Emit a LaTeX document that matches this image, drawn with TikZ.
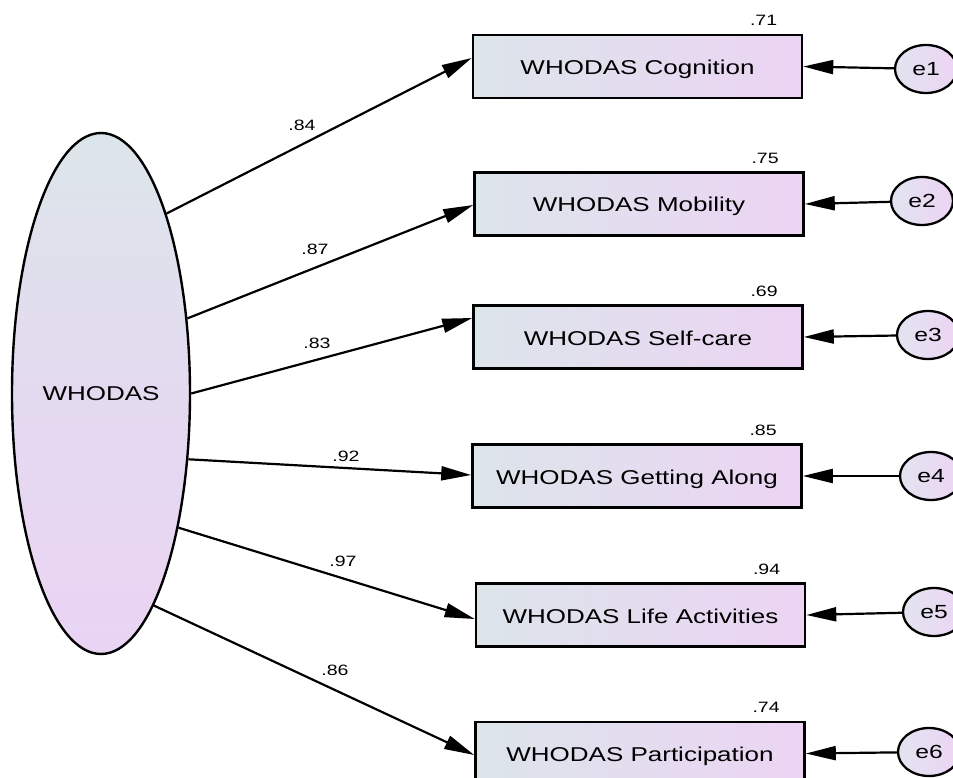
\documentclass[tikz,border=0pt]{standalone}
\usepackage{fontspec}
\setmainfont{Liberation Sans}[FakeStretch=1.3]
\usetikzlibrary{arrows.meta,shapes.geometric}

\definecolor{boxL}{HTML}{DCE5EA}
\definecolor{boxR}{HTML}{ECD4F4}
\definecolor{latT}{HTML}{DCE6EA}
\definecolor{latM}{HTML}{E4DAF0}
\definecolor{latB}{HTML}{EAD4F4}
\definecolor{errL}{HTML}{E2E4F0}
\definecolor{errR}{HTML}{EDD4F4}

\begin{document}
\begin{tikzpicture}[x=1pt,y=-1pt,
  obs/.style={draw, line width=2.6pt, minimum width=329pt, minimum height=63pt,
    inner sep=0pt, left color=boxL, right color=boxR,
    text height=20pt, text depth=4pt,
    font=\fontsize{20}{24}\selectfont},
  lat/.style={ellipse, draw, line width=2.4pt, minimum width=178pt,
    minimum height=521pt, inner sep=0pt, top color=latT, bottom color=latB,
    middle color=latM, font=\fontsize{20}{24}\selectfont},
  err/.style={ellipse, draw, line width=2.3pt, minimum width=62pt,
    minimum height=48pt, inner sep=0pt, left color=errL, right color=errR,
    font=\fontsize{19}{23}\selectfont},
  load/.style={line width=2.2pt, -{Triangle[length=30pt,width=14pt]}},
  coef/.style={font=\fontsize{15}{17}\selectfont, inner sep=0pt},
  rsq/.style={coef, anchor=base east},
]
\useasboundingbox (0,0) rectangle (953,778);

% latent factor
\node[lat] (W) at (101,393.5) {WHODAS};

% observed indicators
\node[obs] (b1) at (637.5,66.5) {WHODAS Cognition};
\node[obs] (b2) at (639,204)    {WHODAS Mobility};
\node[obs] (b3) at (638,337)    {WHODAS Self-care};
\node[obs] (b4) at (637,476)    {WHODAS Getting Along};
\node[obs] (b5) at (640.5,615)  {WHODAS Life Activities};
\node[obs] (b6) at (640,753.5)  {WHODAS Participation};

% error terms
\node[err] (e1) at (926,69)  {e1};
\node[err] (e2) at (922,201) {e2};
\node[err] (e3) at (928,335) {e3};
\node[err] (e4) at (931,476) {e4};
\node[err] (e5) at (934,612) {e5};
\node[err] (e6) at (929,752) {e6};

% squared multiple correlations
\node[rsq] (r1) at ([xshift=-26pt,yshift=8pt]b1.north east) {.71};
\node[rsq] (r2) at ([xshift=-26pt,yshift=8pt]b2.north east) {.75};
\node[rsq] (r3) at ([xshift=-26pt,yshift=8pt]b3.north east) {.69};
\node[rsq] (r4) at ([xshift=-26pt,yshift=8pt]b4.north east) {.85};
\node[rsq] (r5) at ([xshift=-26pt,yshift=8pt]b5.north east) {.94};
\node[rsq] (r6) at ([xshift=-26pt,yshift=8pt]b6.north east) {.74};

% factor loadings
\draw[load] (W.70)  -- ([yshift=8.5pt]b1.west);
\draw[load] (W.41)  -- ([yshift=-1pt]b2.west);
\draw[load] (W.0)   -- ([yshift=19pt]b3.west);
\draw[load] (W.-37) -- ([yshift=1pt]b4.west);
\draw[load] (W.-60) -- ([yshift=-4pt]b5.west);
\draw[load] (W.-76) -- ([yshift=-1.5pt]b6.west);

\node[coef] (l1) at (302,125) {.84};
\node[coef] (l2) at (315,249) {.87};
\node[coef] (l3) at (317,343) {.83};
\node[coef] (l4) at (346,456) {.92};
\node[coef] (l5) at (343,561) {.97};
\node[coef] (l6) at (335,670) {.86};

% error paths
\foreach \i in {1,...,6}
  \draw[load] (e\i) -- (b\i.east);
\end{tikzpicture}
\end{document}
